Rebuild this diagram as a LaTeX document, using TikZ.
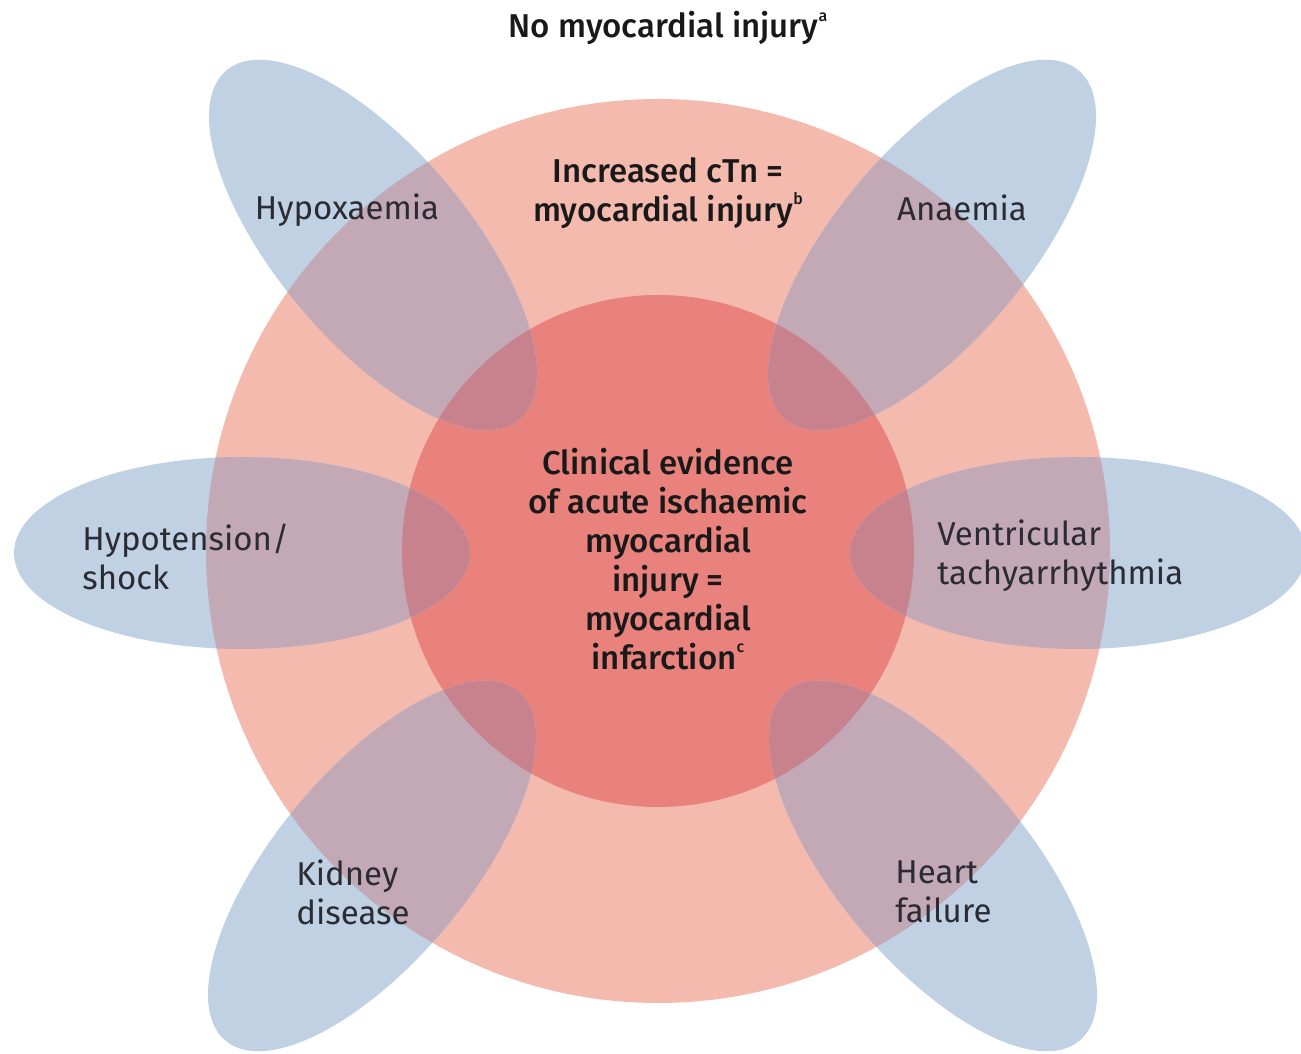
\documentclass[tikz,border=0pt]{standalone}
\usepackage{fontspec}
\setmainfont{Fira Sans}
\newfontfamily\medfont{Fira Sans Medium}
\usepackage{tikz}
\usetikzlibrary{positioning}
\definecolor{outerpink}{HTML}{F4BAAE}
\definecolor{innerred}{HTML}{E9827C}
\definecolor{petalblue}{HTML}{C0D1E4}
\definecolor{mauve}{HTML}{C3A9B6}
\definecolor{darkmauve}{HTML}{C7828D}
\definecolor{labgray}{HTML}{2A2B33}
\newcommand{\fnmark}[1]{\raisebox{0.5em}{\fontsize{8}{8}\selectfont #1}}

\begin{document}
\begin{tikzpicture}[
    x=0.5pt, y=0.5pt,
    font=\fontsize{16.5}{19.5}\selectfont,
    lab/.style={text=labgray, inner sep=0pt},
    side/.style={lab, anchor=west, align=left},
    head/.style={lab, text=black!90, align=center, font=\fontsize{16.5}{19.5}\selectfont\medfont}
]
\useasboundingbox (0,0) rectangle (1301,1054);

% ---- circles (outer = injury, inner = infarction) ----
\fill[outerpink] (658,503) circle (452);
\fill[innerred]  (658,503) circle (256);

% ---- petals, with their overlaps on both circles ----
\foreach \cx/\cy/\ang in {242/501/0, 1078/501/0, 373/809/-50, 932/809/50, 372/188/50, 933/188/-50}{
  \fill[petalblue, rotate around={\ang:(\cx,\cy)}] (\cx,\cy) ellipse [x radius=228, y radius=96];
  \begin{scope}
    \clip[rotate around={\ang:(\cx,\cy)}] (\cx,\cy) ellipse [x radius=228, y radius=96];
    \fill[mauve]     (658,503) circle (452);
    \fill[darkmauve] (658,503) circle (256);
  \end{scope}
}

% ---- headings ----
\node[head] (noinjury) at (668,1026) {No myocardial injury\fnmark{a}};
\node[head] (injury)   at (668,861)  {Increased cTn =\\myocardial injury\fnmark{b}};
\node[head] (infarct)  at (668,495)  {Clinical evidence\\of acute ischaemic\\myocardial\\injury =\\myocardial\\infarction\fnmark{c}};

% ---- petal labels ----
\node[lab]  (hypox)   at (347,844) {Hypoxaemia};
\node[lab]  (anaemia) at (962,846) {Anaemia};
\node[side] (shock)   at (82,497)  {Hypotension/\\shock};
\node[side] (tachy)   at (937,498) {Ventricular\\tachyarrhythmia};
\node[side] (kidney)  at (296,162) {Kidney\\disease};
\node[side] (heart)   at (895,162) {Heart\\failure};

\end{tikzpicture}
\end{document}
